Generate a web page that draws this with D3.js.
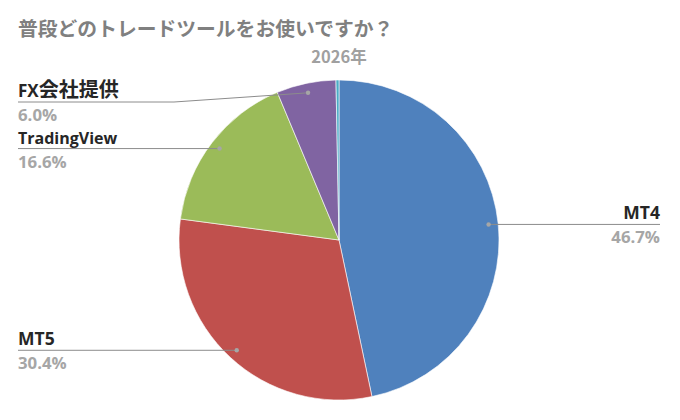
<!DOCTYPE html>
<html>
<head>
<meta charset="utf-8">
<script src="https://cdn.jsdelivr.net/npm/d3@7"></script>
<style>
body{margin:0;background:#fff;}
svg{display:block;font-family:"Open Sans","Noto Sans CJK JP",sans-serif;}
</style>
</head>
<body>
<svg id="chart" width="680" height="420"></svg>
<script>
const title = "普段どのトレードツールをお使いですか？";
const subtitle = "2026年";
const categories = ["MT4", "MT5", "TradingView", "FX会社提供", "その他"];
const values = [46.7, 30.4, 16.6, 6.0, 0.3];
const colors = ["#4f81bd", "#c0504d", "#9bbb59", "#8064a2", "#4bacc6"];
const showLabel = [true, true, true, true, false];

const cx = 339, cy = 240, R = 160;
const svg = d3.select("#chart");

svg.append("text").attr("x", 18).attr("y", 36)
  .attr("fill", "#808080").attr("font-size", 19.8).attr("font-weight", "bold")
  .attr("font-family", "'Noto Sans CJK JP',sans-serif")
  .text(title);
svg.append("text").attr("x", cx).attr("y", 63).attr("text-anchor", "middle")
  .attr("fill", "#a0a0a0").attr("font-size", 16.5).attr("font-weight", "bold")
  .attr("font-family", "'Noto Sans CJK JP',sans-serif")
  .text(subtitle);

const data = categories.map((c, i) => ({name: c, value: values[i], color: colors[i], show: showLabel[i]}));
const pie = d3.pie().sort(null).value(d => d.value);
const arcs = pie(data);
const arc = d3.arc().innerRadius(0).outerRadius(R);
const g = svg.append("g").attr("transform", `translate(${cx},${cy})`);
g.selectAll("path").data(arcs).join("path")
  .attr("d", arc).attr("fill", d => d.data.color)
  .attr("stroke", "#fff").attr("stroke-width", 0.6);

const dotArc = d3.arc().innerRadius(R * 0.94).outerRadius(R * 0.94);
const layout = {
  "MT4": {side: "right", x: 660, size: 17.5},
  "MT5": {side: "left", x: 18, size: 17.5},
  "TradingView": {side: "left", x: 18, size: 16},
  "FX会社提供": {side: "left", x: 18, size: 17, ly: 102, bend: 174}
};
arcs.filter(a => a.data.show).forEach(a => {
  const L = layout[a.data.name];
  const [dx, dy] = dotArc.centroid(a);
  const px = cx + dx, py = cy + dy;
  const ly = L.ly !== undefined ? L.ly : py;
  const pts = L.bend ? [[px, py], [L.bend, ly], [L.x, ly]] : [[px, ly], [L.x, ly]];
  svg.append("path").attr("d", d3.line()(pts))
    .attr("fill", "none").attr("stroke", "#8c8c8c").attr("stroke-width", 1);
  svg.append("circle").attr("cx", px).attr("cy", py).attr("r", 2.2).attr("fill", "#a6a6a6");
  const anchor = L.side === "right" ? "end" : "start";
  const t = svg.append("text").attr("x", L.x).attr("y", ly - 5).attr("text-anchor", anchor)
    .attr("fill", "#262626").attr("font-size", L.size).attr("font-weight", "bold");
  const m = a.data.name.match(/^([A-Za-z0-9]*)(.*)$/);
  if (m[2]) {
    t.append("tspan").text(m[1]);
    t.append("tspan").attr("font-family", "'Noto Sans CJK JP',sans-serif").attr("font-size", 20).text(m[2]);
  } else {
    t.text(a.data.name);
  }
  svg.append("text").attr("x", L.x).attr("y", ly + 19).attr("text-anchor", anchor)
    .attr("fill", "#a6a6a6").attr("font-size", 16.8).attr("font-weight", "bold")
    .text(a.data.value.toFixed(1) + "%");
});
</script>
</body>
</html>
